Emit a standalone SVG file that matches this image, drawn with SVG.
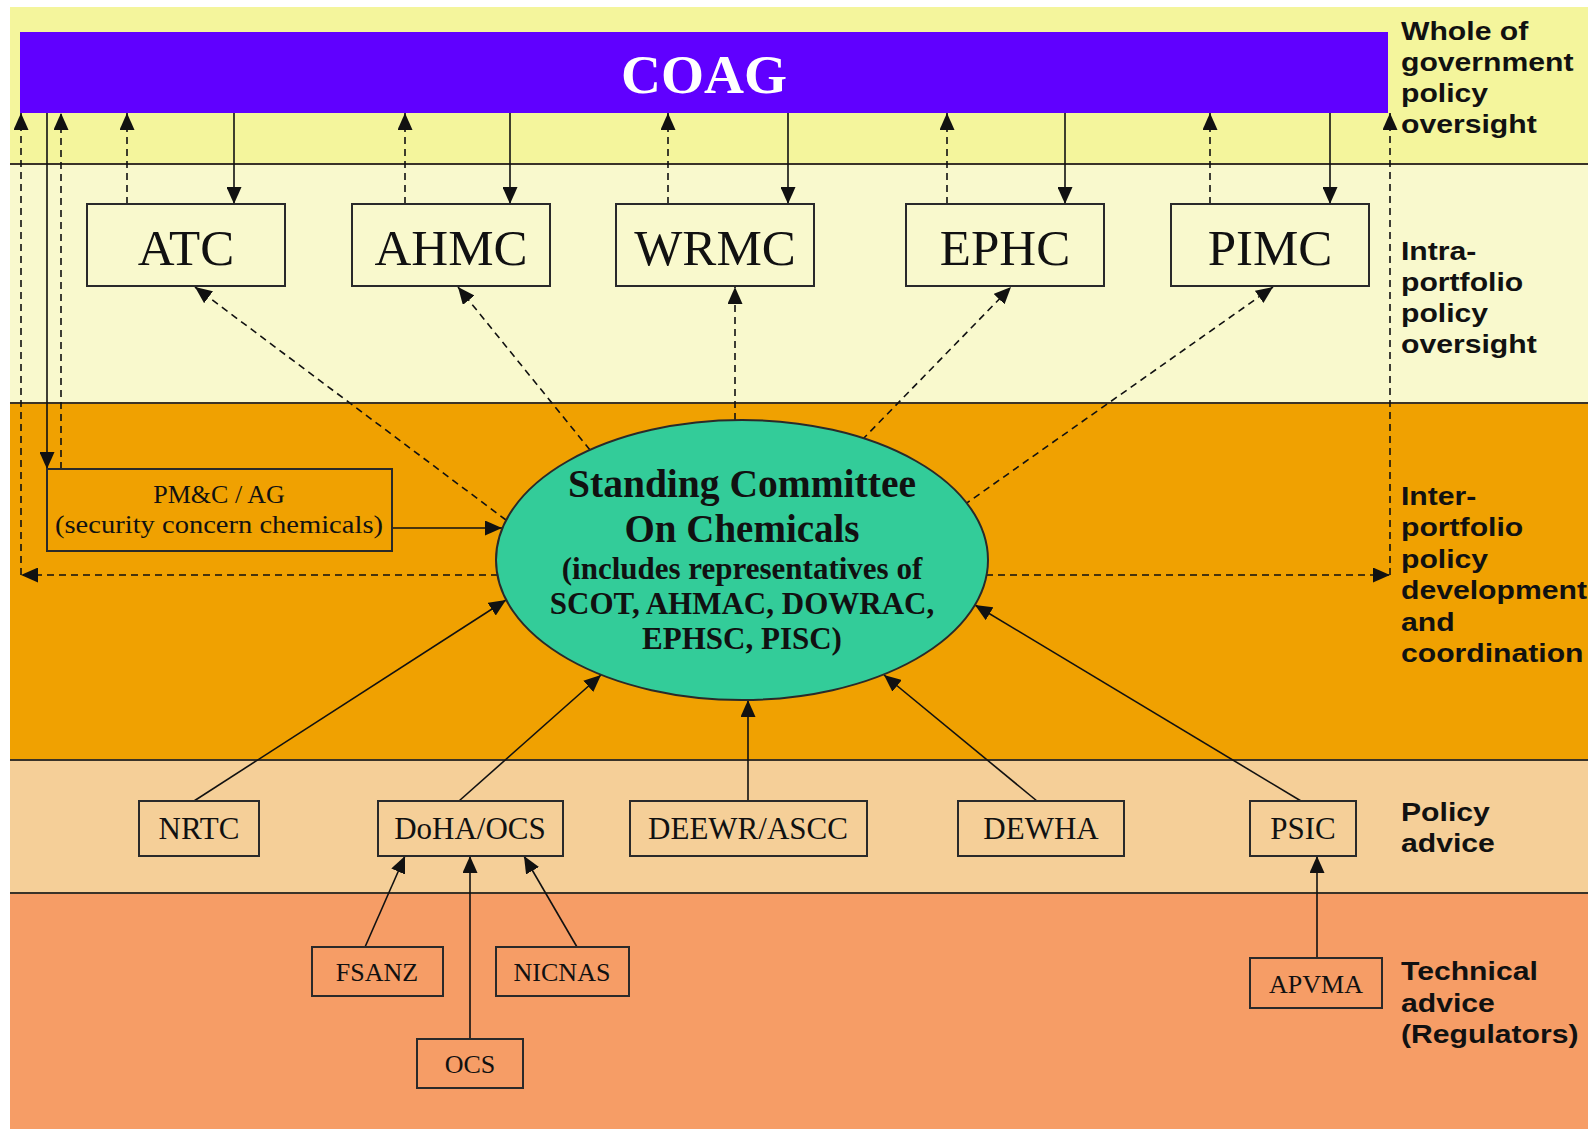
<svg xmlns="http://www.w3.org/2000/svg" width="1588" height="1129" viewBox="0 0 1588 1129">
<defs>
<style>
.sep{stroke:#3a3328;stroke-width:2}
.lane{font-family:"Liberation Sans",Arial,sans-serif;font-weight:bold;font-size:26px;fill:#111}
.box{stroke:#2a2a2a;stroke-width:2;fill:none}
.big{font-family:"Liberation Serif","Times New Roman",serif;font-size:51px;fill:#111;text-anchor:middle}
.mid{font-family:"Liberation Serif","Times New Roman",serif;font-size:31px;fill:#111;text-anchor:middle}
.sm{font-family:"Liberation Serif","Times New Roman",serif;font-size:26px;fill:#111;text-anchor:middle}
.solid{stroke:#111;stroke-width:1.6;fill:none;marker-end:url(#ah)}
.dash{stroke:#111;stroke-width:1.6;fill:none;stroke-dasharray:7 5;marker-end:url(#ah)}
</style>
<marker id="ah" viewBox="0 0 17 15" refX="17" refY="7.5" markerWidth="17" markerHeight="15" markerUnits="userSpaceOnUse" orient="auto">
<path d="M0,0 L17,7.5 L0,15 z" fill="#111"/>
</marker>
</defs>

<g id="background">
<rect x="10" y="7" width="1578" height="157" fill="#F4F59C"/>
<rect x="10" y="164" width="1578" height="239" fill="#F9F9CD"/>
<rect x="10" y="403" width="1578" height="357" fill="#F0A101"/>
<rect x="10" y="760" width="1578" height="133" fill="#F5CF98"/>
<rect x="10" y="893" width="1578" height="236" fill="#F69D66"/>
<line class="sep" x1="10" y1="164" x2="1588" y2="164"/>
<line class="sep" x1="10" y1="403" x2="1588" y2="403"/>
<line class="sep" x1="10" y1="760" x2="1588" y2="760"/>
<line class="sep" x1="10" y1="893" x2="1588" y2="893"/>
</g>

<g id="lane-labels" transform="translate(1401 0) scale(1.16 1)">
<text class="lane" x="0" y="40">Whole of</text>
<text class="lane" x="0" y="71">government</text>
<text class="lane" x="0" y="102">policy</text>
<text class="lane" x="0" y="133">oversight</text>
<text class="lane" x="0" y="260">Intra-</text>
<text class="lane" x="0" y="291">portfolio</text>
<text class="lane" x="0" y="322">policy</text>
<text class="lane" x="0" y="353">oversight</text>
<text class="lane" x="0" y="505">Inter-</text>
<text class="lane" x="0" y="536">portfolio</text>
<text class="lane" x="0" y="568">policy</text>
<text class="lane" x="0" y="599">development</text>
<text class="lane" x="0" y="631">and</text>
<text class="lane" x="0" y="662">coordination</text>
<text class="lane" x="0" y="821">Policy</text>
<text class="lane" x="0" y="852">advice</text>
<text class="lane" x="0" y="980">Technical</text>
<text class="lane" x="0" y="1012">advice</text>
<text class="lane" x="0" y="1043">(Regulators)</text>
</g>

<g id="connectors">
<path class="dash" d="M21,575 V113"/>
<path class="dash" d="M61,469 V113"/>
<path class="dash" d="M127,204 V113"/>
<path class="dash" d="M405,204 V113"/>
<path class="dash" d="M668,204 V113"/>
<path class="dash" d="M947,204 V113"/>
<path class="dash" d="M1210,204 V113"/>
<path class="dash" d="M1390,575 V113"/>
<path class="solid" d="M47,113 V469"/>
<path class="solid" d="M234,113 V204"/>
<path class="solid" d="M510,113 V204"/>
<path class="solid" d="M788,113 V204"/>
<path class="solid" d="M1065,113 V204"/>
<path class="solid" d="M1330,113 V204"/>
<path class="dash" d="M506,520 L195,287"/>
<path class="dash" d="M590,450 L458,287"/>
<path class="dash" d="M735,420 V287"/>
<path class="dash" d="M862,440 L1011,287"/>
<path class="dash" d="M964,505 L1273,287"/>
<path class="dash" d="M498,575 H21"/>
<path class="dash" d="M986,575 H1390"/>
<path class="solid" d="M392,528 H502"/>
<path class="solid" d="M194,801 L506,600"/>
<path class="solid" d="M459,801 L601,675"/>
<path class="solid" d="M748,801 V700"/>
<path class="solid" d="M1037,801 L884,675"/>
<path class="solid" d="M1301,801 L975,605"/>
<path class="solid" d="M365,947 L405,856"/>
<path class="solid" d="M470,1039 V856"/>
<path class="solid" d="M577,947 L524,856"/>
<path class="solid" d="M1317,958 V856"/>
</g>

<g id="node-coag">
<rect x="20" y="32" width="1368" height="81" fill="#6000FF"/>
<text x="704" y="93" font-family="Liberation Serif,Times New Roman,serif" font-weight="bold" font-size="54" fill="#fff" text-anchor="middle" textLength="166" lengthAdjust="spacingAndGlyphs">COAG</text>
</g>

<g id="node-atc"><rect class="box" x="87" y="204" width="198" height="82"/><text class="big" x="186" y="265">ATC</text></g>
<g id="node-ahmc"><rect class="box" x="352" y="204" width="198" height="82"/><text class="big" x="451" y="265">AHMC</text></g>
<g id="node-wrmc"><rect class="box" x="616" y="204" width="198" height="82"/><text class="big" x="715" y="265">WRMC</text></g>
<g id="node-ephc"><rect class="box" x="906" y="204" width="198" height="82"/><text class="big" x="1005" y="265">EPHC</text></g>
<g id="node-pimc"><rect class="box" x="1171" y="204" width="198" height="82"/><text class="big" x="1270" y="265">PIMC</text></g>

<g id="node-pmc">
<rect class="box" x="47" y="469" width="345" height="82"/>
<text class="sm" x="219" y="503" font-size="27">PM&amp;C / AG</text>
<text class="sm" x="219" y="533" font-size="27" textLength="328" lengthAdjust="spacingAndGlyphs">(security concern chemicals)</text>
</g>

<g id="node-scoc">
<ellipse cx="742" cy="560" rx="246" ry="140" fill="#33CC99" stroke="#2a2a2a" stroke-width="2"/>
<g font-family="Liberation Serif,Times New Roman,serif" font-weight="bold" fill="#111" text-anchor="middle">
<text x="742" y="497" font-size="39" textLength="348" lengthAdjust="spacingAndGlyphs">Standing Committee</text>
<text x="742" y="542" font-size="39">On Chemicals</text>
<text x="742" y="579" font-size="31">(includes representatives of</text>
<text x="742" y="614" font-size="31">SCOT, AHMAC, DOWRAC,</text>
<text x="742" y="649" font-size="31">EPHSC, PISC)</text>
</g>
</g>

<g id="node-nrtc"><rect class="box" x="139" y="801" width="120" height="55"/><text class="mid" x="199" y="839">NRTC</text></g>
<g id="node-doha"><rect class="box" x="378" y="801" width="185" height="55"/><text class="mid" x="470" y="839">DoHA/OCS</text></g>
<g id="node-deewr"><rect class="box" x="630" y="801" width="237" height="55"/><text class="mid" x="748" y="839">DEEWR/ASCC</text></g>
<g id="node-dewha"><rect class="box" x="958" y="801" width="166" height="55"/><text class="mid" x="1041" y="839">DEWHA</text></g>
<g id="node-psic"><rect class="box" x="1250" y="801" width="106" height="55"/><text class="mid" x="1303" y="839">PSIC</text></g>

<g id="node-fsanz"><rect class="box" x="312" y="947" width="131" height="49"/><text class="sm" x="377" y="981">FSANZ</text></g>
<g id="node-nicnas"><rect class="box" x="496" y="947" width="133" height="49"/><text class="sm" x="562" y="981">NICNAS</text></g>
<g id="node-ocs"><rect class="box" x="417" y="1039" width="106" height="49"/><text class="sm" x="470" y="1073">OCS</text></g>
<g id="node-apvma"><rect class="box" x="1250" y="958" width="132" height="50"/><text class="sm" x="1316" y="993">APVMA</text></g>
</svg>
